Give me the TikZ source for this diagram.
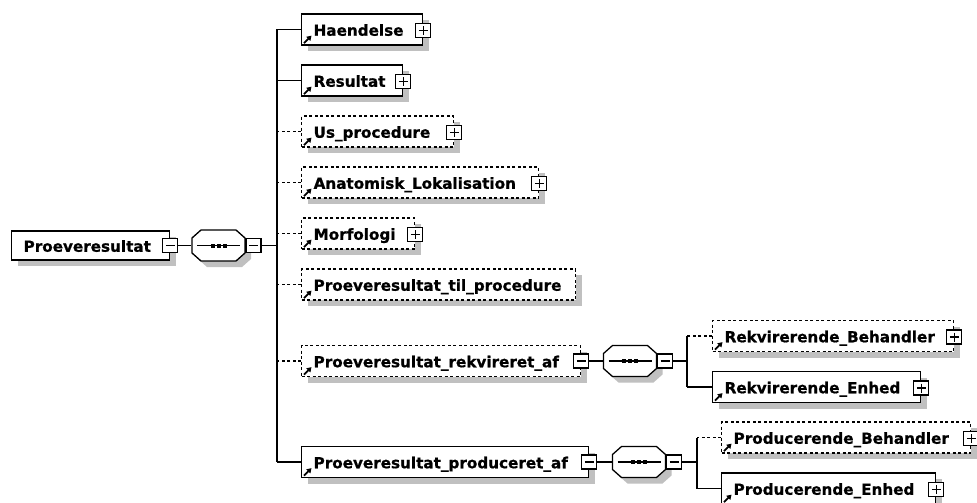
\documentclass[tikz,border=0pt]{standalone}
\usepackage{fontspec}
\setsansfont{DejaVu Sans}[BoldFeatures={FakeBold=0.8}]
\usetikzlibrary{shadows,arrows.meta}
\definecolor{shadowgray}{RGB}{192,192,192}
\tikzset{
  basebox/.style={rectangle, draw=black, fill=white, line width=1.3pt, anchor=west,
    inner xsep=12pt, inner ysep=0pt, minimum height=31pt, text height=12.5pt, text depth=0pt,
    align=left, font=\sffamily\bfseries\fontsize{15.2}{18}\selectfont,
    drop shadow={shadow xshift=6pt, shadow yshift=-6pt, fill=shadowgray, opacity=1}},
  reqbox/.style={basebox},
  optbox/.style={basebox, dash pattern=on 3pt off 2.5pt},
  optline/.style={dash pattern=on 3pt off 2.5pt},
  pmbox/.style={rectangle, draw=black, fill=white, line width=1.3pt, minimum width=15pt,
    minimum height=14pt, inner sep=0pt},
  minusbox/.style={pmbox, path picture={\draw[line width=1.2pt]
    ([xshift=3pt]path picture bounding box.west) -- ([xshift=-3pt]path picture bounding box.east);}},
  plusbox/.style={pmbox, path picture={\draw[line width=1.2pt]
    ([xshift=3pt]path picture bounding box.west) -- ([xshift=-3pt]path picture bounding box.east)
    ([yshift=-2.5pt]path picture bounding box.north) -- ([yshift=2.5pt]path picture bounding box.south);}},
  seqnode/.style={rectangle, draw=none, minimum width=53pt, minimum height=31pt, inner sep=0pt},
  refarrow/.style={line width=1.8pt, -{Triangle[length=4.5pt,width=5.5pt]}}
}
\newcommand{\seqcomp}[3]{%
  \node[seqnode] (#1) at (#2,#3) {};
  \begin{scope}[shift={(#2,#3)}]
    \fill[shadowgray] (-11.5,-9.5) -- (23.5,-9.5) -- (32.5,-1.5) -- (32.5,13.5) -- (23.5,21.5)
      -- (-11.5,21.5) -- (-20.5,13.5) -- (-20.5,-1.5) -- cycle;
    \draw[fill=white] (-17.5,-15.5) -- (17.5,-15.5) -- (26.5,-7.5) -- (26.5,7.5) -- (17.5,15.5)
      -- (-17.5,15.5) -- (-26.5,7.5) -- (-26.5,-7.5) -- cycle;
    \draw (-21.5,0) -- (21.5,0);
    \foreach \d in {-6,0,6} \fill (\d-2,-2) rectangle (\d+2,2);
  \end{scope}
}
\begin{document}
\begin{tikzpicture}[x=1pt,y=-1pt,line width=1.3pt]
\fill[white] (0,0) rectangle (977,503);
\useasboundingbox (0,0) rectangle (977,503);

% root
\node[reqbox, text width=134pt, minimum height=29pt] (root) at (11,245.5) {Proeveresultat};
\node[minusbox] (root-m) at (root.east) {};
\seqcomp{seq}{218.5}{245.5}
\node[minusbox] (seq-m) at (253.5,245.5) {};
\coordinate (bus) at (277,245.5);

% children
\node[reqbox, text width=97pt]  (haendelse) at (301,29.5)  {Haendelse};
\node[reqbox, text width=77pt]  (resultat)  at (301,80.5)  {Resultat};
\node[optbox, text width=128pt] (usproc)    at (301,131.5) {Us\_procedure};
\node[optbox, text width=213pt] (anatom)    at (301,182.5) {Anatomisk\_Lokalisation};
\node[optbox, text width=89pt]  (morfo)     at (301,233.5) {Morfologi};
\node[optbox, text width=250pt] (tilproc)   at (301,284.5) {Proeveresultat\_til\_procedure};
\node[optbox, text width=255pt] (rekv)      at (301,361)   {Proeveresultat\_rekvireret\_af};
\node[reqbox, text width=263pt] (prod)      at (301,462)   {Proeveresultat\_produceret\_af};

\node[plusbox] (haendelse-p) at ([yshift=-1pt]haendelse.east) {};
\node[plusbox] (resultat-p)  at ([yshift=-1pt]resultat.east) {};
\node[plusbox] (usproc-p)    at ([yshift=-1pt]usproc.east) {};
\node[plusbox] (anatom-p)    at ([yshift=-1pt]anatom.east) {};
\node[plusbox] (morfo-p)     at ([yshift=-1pt]morfo.east) {};
\node[minusbox] (rekv-m)     at (rekv.east) {};
\node[minusbox] (prod-m)     at (prod.east) {};

% root connectors
\draw (root-m.east) -- (seq.west);
\draw (seq-m.east) -- (bus);
\draw (bus |- haendelse.west) -- (bus |- prod.west);
\draw (haendelse.west) -- (bus |- haendelse.west);
\draw (resultat.west) -- (bus |- resultat.west);
\draw[optline] (usproc.west) -- (bus |- usproc.west);
\draw[optline] (anatom.west) -- (bus |- anatom.west);
\draw[optline] (morfo.west) -- (bus |- morfo.west);
\draw[optline] (tilproc.west) -- (bus |- tilproc.west);
\draw[optline] (rekv.west) -- (bus |- rekv.west);
\draw (prod.west) -- (bus |- prod.west);

% rekvireret sub-sequence
\seqcomp{rseq}{630}{361}
\node[minusbox] (rseq-m) at (665,361) {};
\coordinate (rbus) at (687,361);
\node[optbox, text width=217pt] (rbeh) at (712,336) {Rekvirerende\_Behandler};
\node[reqbox, text width=184pt] (renh) at (712,387) {Rekvirerende\_Enhed};
\node[plusbox] (rbeh-p) at ([yshift=-1pt]rbeh.east) {};
\node[plusbox] (renh-p) at ([yshift=-1pt]renh.east) {};
\draw (rekv-m.east) -- (rseq.west);
\draw (rseq-m.east) -- (rbus);
\draw (rbus |- rbeh.west) -- (rbus |- renh.west);
\draw[optline] (rbeh.west) -- (rbus |- rbeh.west);
\draw (renh.west) -- (rbus |- renh.west);

% produceret sub-sequence
\seqcomp{pseq}{639}{462}
\node[minusbox] (pseq-m) at (674,462) {};
\coordinate (pbus) at (697,462);
\node[optbox, text width=225pt] (pbeh) at (721,437.5) {Producerende\_Behandler};
\node[reqbox, text width=190pt] (penh) at (721,488.5) {Producerende\_Enhed};
\node[plusbox] (pbeh-p) at ([yshift=-1pt]pbeh.east) {};
\node[plusbox] (penh-p) at ([yshift=-1pt]penh.east) {};
\draw (prod-m.east) -- (pseq.west);
\draw (pseq-m.east) -- (pbus);
\draw (pbus |- pbeh.west) -- (pbus |- penh.west);
\draw[optline] (pbeh.west) -- (pbus |- pbeh.west);
\draw (penh.west) -- (pbus |- penh.west);

% reference arrows
\foreach \n in {haendelse,resultat,usproc,anatom,morfo,tilproc,rekv,prod,rbeh,renh,pbeh,penh}
  \draw[refarrow] ([shift={(3,-2.5)}]\n.south west) -- ++(7.5,-7.5);
\end{tikzpicture}
\end{document}
